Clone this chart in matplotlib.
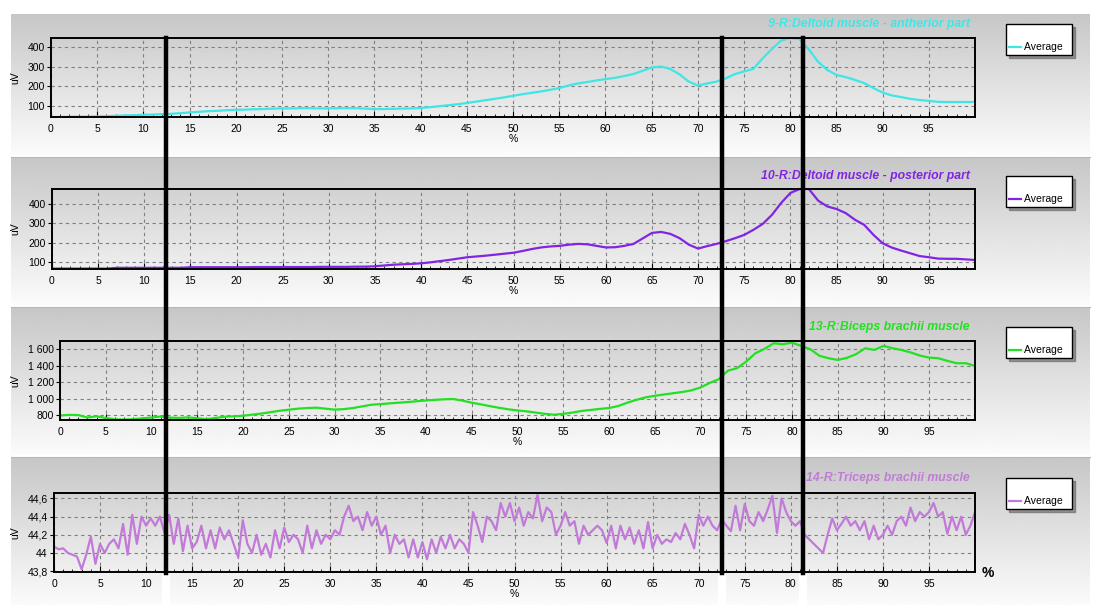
import numpy as np
import matplotlib
matplotlib.use("Agg")
import matplotlib.pyplot as plt
from matplotlib.lines import Line2D
from matplotlib.patches import Rectangle

plt.rcParams['font.family'] = ['Liberation Sans', 'DejaVu Sans']

###############################################################################
#   DATA
###############################################################################

# percent of movement cycle, 1 % steps for the three smooth channels
pct = np.arange(0, 101, 1)

deltoid_ant = [47, 47, 48, 49, 49, 50, 51, 53, 55, 56,
               58, 59, 61, 63, 66, 70, 73, 76, 78, 81,
               83, 84, 86, 87, 89, 90, 90, 91, 91, 90,
               90, 91, 91, 91, 89, 87, 87, 88, 89, 90,
               92, 96, 101, 106, 111, 117, 124, 131, 138, 145,
               153, 161, 168, 175, 183, 192, 205, 215, 222, 230,
               237, 243, 252, 262, 278, 295, 300, 288, 262, 225,
               205, 215, 224, 240, 262, 275, 288, 340, 387, 430,
               443, 437, 387, 325, 283, 258, 247, 233, 217, 192,
               170, 155, 147, 138, 132, 128, 123, 122, 122, 122, 122]

deltoid_post = [68, 68, 68, 68, 68, 68, 68, 72, 72, 72,
                72, 72, 72, 72, 72, 75, 75, 75, 75, 75,
                75, 75, 76, 76, 76, 76, 76, 76, 76, 77,
                77, 77, 77, 78, 78, 80, 84, 88, 90, 92,
                95, 100, 106, 112, 119, 126, 130, 134, 139, 144,
                149, 158, 168, 176, 181, 184, 190, 194, 192, 184,
                176, 177, 184, 194, 222, 250, 255, 245, 223, 190,
                170, 183, 194, 208, 223, 240, 266, 296, 342, 403,
                454, 474, 474, 415, 385, 372, 351, 317, 291, 240,
                197, 175, 160, 146, 132, 126, 119, 118, 118, 115, 112]

biceps = [795, 802, 800, 770, 785, 765, 748, 745, 750, 760,
          770, 782, 770, 765, 772, 762, 750, 765, 780, 785,
          792, 805, 818, 835, 852, 865, 878, 885, 890, 878,
          866, 872, 885, 905, 925, 933, 942, 950, 958, 968,
          977, 985, 992, 995, 975, 950, 930, 908, 888, 870,
          856, 845, 830, 815, 804, 815, 830, 850, 862, 875,
          885, 910, 950, 985, 1015, 1034, 1050, 1065, 1080, 1100,
          1135, 1190, 1236, 1340, 1370, 1450, 1551, 1604, 1673, 1661,
          1680, 1640, 1600, 1520, 1490, 1470, 1495, 1540, 1612, 1592,
          1640, 1612, 1590, 1560, 1522, 1498, 1490, 1458, 1430, 1430, 1397]

# triceps is noisy, read at 0.5 % steps
pct_half = np.arange(0, 100.5, 0.5)
triceps = [44.07, 44.04, 44.05, 44.00, 43.98, 43.96, 43.82, 43.98, 44.18, 43.88,
           44.10, 44.00, 44.10, 44.15, 44.05, 44.32, 43.98, 44.42, 44.10, 44.40,
           44.30, 44.38, 44.30, 44.40, 44.22, 44.42, 44.10, 44.38, 44.02, 44.30,
           44.05, 44.12, 44.30, 44.05, 44.25, 44.05, 44.28, 44.15, 44.25, 44.10,
           43.95, 44.36, 44.10, 44.00, 44.20, 43.98, 44.10, 43.95, 44.25, 44.05,
           44.28, 44.12, 44.20, 44.15, 44.00, 44.30, 44.05, 44.25, 44.10, 44.20,
           44.15, 44.25, 44.20, 44.40, 44.52, 44.35, 44.40, 44.25, 44.45, 44.30,
           44.40, 44.20, 44.30, 44.00, 44.20, 44.10, 44.15, 43.95, 44.15, 43.95,
           44.12, 43.93, 44.15, 44.00, 44.18, 44.05, 44.20, 44.05, 44.15, 44.10,
           44.00, 44.45, 44.30, 44.12, 44.40, 44.35, 44.25, 44.55, 44.40, 44.55,
           44.35, 44.50, 44.30, 44.45, 44.38, 44.64, 44.35, 44.50, 44.45, 44.20,
           44.30, 44.45, 44.30, 44.35, 44.10, 44.30, 44.20, 44.25, 44.30, 44.25,
           44.11, 44.30, 44.05, 44.30, 44.15, 44.28, 44.10, 44.25, 44.05, 44.34,
           44.05, 44.20, 44.10, 44.15, 44.12, 44.22, 44.15, 44.32, 44.20, 44.05,
           44.42, 44.30, 44.40, 44.30, 44.25, 44.37, 44.30, 44.24, 44.52, 44.25,
           44.54, 44.35, 44.30, 44.45, 44.35, 44.48, 44.63, 44.22, 44.60, 44.45,
           44.35, 44.30, 44.35, 44.20, 44.15, 44.10, 44.05, 44.00, 44.20, 44.38,
           44.25, 44.32, 44.40, 44.30, 44.35, 44.25, 44.35, 44.15, 44.30, 44.15,
           44.20, 44.30, 44.20, 44.35, 44.40, 44.30, 44.50, 44.35, 44.45, 44.40,
           44.45, 44.55, 44.40, 44.45, 44.21, 44.40, 44.25, 44.40, 44.20, 44.30,
           44.45]

titles = ["9-R:Deltoid muscle - antherior part",
          "10-R:Deltoid muscle - posterior part",
          "13-R:Biceps brachii muscle",
          "14-R:Triceps brachii muscle"]
colors = ["#3fe6e6", "#8224e3", "#22e022", "#c27ad9"]

ytick_vals = [[100, 200, 300, 400],
              [100, 200, 300, 400],
              [800, 1000, 1200, 1400, 1600],
              [43.8, 44.0, 44.2, 44.4, 44.6]]
ytick_labels = [["100", "200", "300", "400"],
                ["100", "200", "300", "400"],
                ["800", "1 000", "1 200", "1 400", "1 600"],
                ["43,8", "44", "44,2", "44,4", "44,6"]]
ylims = [(47, 443), (66, 474), (740, 1700), (43.79, 44.66)]
xtick_vals = list(range(0, 100, 5))

# event markers (drawn over the whole figure, pixel positions)
marker_px = [166, 722, 803]

###############################################################################
#   LAYOUT
###############################################################################

W, H = 1101, 605
fig = plt.figure(figsize=(W / 100, H / 100), dpi=100)
fig.patch.set_facecolor("white")

def fx(px):
    return px / W

def fy(py):
    return 1 - py / H

# gray gradient bands behind each channel (top, bottom in px)
bands = [(14, 155), (158, 305), (308, 455), (458, 605)]
grad = np.linspace(0.78, 0.985, 256).reshape(-1, 1)
for top, bot in bands:
    bg = fig.add_axes([fx(11), fy(bot), fx(1090 - 11), (bot - top) / H], zorder=-5)
    bg.imshow(grad, aspect="auto", cmap="gray", vmin=0, vmax=1, extent=(0, 1, 0, 1))
    bg.axis("off")
    fig.add_artist(Line2D([fx(11), fx(1090)], [fy(bot + 1.5)] * 2, color="#b8b8b0",
                          lw=0.8, transform=fig.transFigure))

# axes boxes: left, top, bottom in px (right is 975 for all)
boxes = [(51, 38, 117), (52, 189, 269), (60, 341, 420), (54, 493, 572)]
xdata = [pct, pct, pct, pct_half]
ydata = [deltoid_ant, deltoid_post, biceps, triceps]
title_y = [24, 176, 327, 478]
legend_y = [24, 176, 327, 478]

for i in range(4):
    left, top, bot = boxes[i]
    ax = fig.add_axes([fx(left), fy(bot), fx(975 - left), (bot - top) / H], zorder=1)
    ax.set_facecolor("none")
    ax.plot(xdata[i], ydata[i], color=colors[i], lw=1.6, label="Average")
    ax.set_xlim(0, 100)
    ax.set_ylim(*ylims[i])
    ax.set_xticks(xtick_vals)
    ax.set_xticks(range(0, 101), minor=True)
    ax.set_yticks(ytick_vals[i], ytick_labels[i])
    ax.tick_params(axis="x", which="major", direction="in", length=4, labelsize=7.5, pad=5)
    ax.tick_params(axis="x", which="minor", direction="in", length=2)
    ax.tick_params(axis="y", direction="out", length=3, labelsize=7.5, pad=1.5)
    ax.grid(True, which="major", ls=(0, (3, 3)), color="#808080", lw=0.8)
    for s in ax.spines.values():
        s.set_linewidth(1.4)
    ax.set_xlabel("%", fontsize=7.5, labelpad=0)
    ax.set_ylabel("uV", fontsize=7.5)
    ax.yaxis.set_label_coords((20 - left) / (975 - left), 0.5)

    fig.text(fx(970), fy(title_y[i]), titles[i], color=colors[i], fontsize=8.8,
             fontweight="bold", fontstyle="italic", ha="right", va="center")

    leg = ax.legend(loc="upper left", bbox_to_anchor=(fx(1006), fy(legend_y[i])),
                    bbox_transform=fig.transFigure, title=" ", title_fontsize=7.5,
                    fontsize=7.5, frameon=True, fancybox=False, shadow=True,
                    edgecolor="black", framealpha=1, handlelength=1.1,
                    handletextpad=0.35, borderpad=0.3, borderaxespad=0)
    leg._legend_box.align = "left"
    leg.get_frame().set_linewidth(1.0)
    # a little extra room on the right, like the original box
    for t in leg.get_texts():
        t.set_text("Average  ")

fig.text(fx(988), fy(573), "%", fontsize=10, fontweight="bold", ha="center", va="center")

# event markers and the white strips under them
for mx in marker_px:
    fig.add_artist(Rectangle((fx(mx - 4), 0), fx(8), fy(574), facecolor="white",
                             edgecolor="none", transform=fig.transFigure, zorder=4))
    fig.add_artist(Line2D([fx(mx), fx(mx)], [fy(38), fy(573)], color="black", lw=3.2,
                          transform=fig.transFigure, zorder=5))

fig.savefig("out.png", dpi=100)
